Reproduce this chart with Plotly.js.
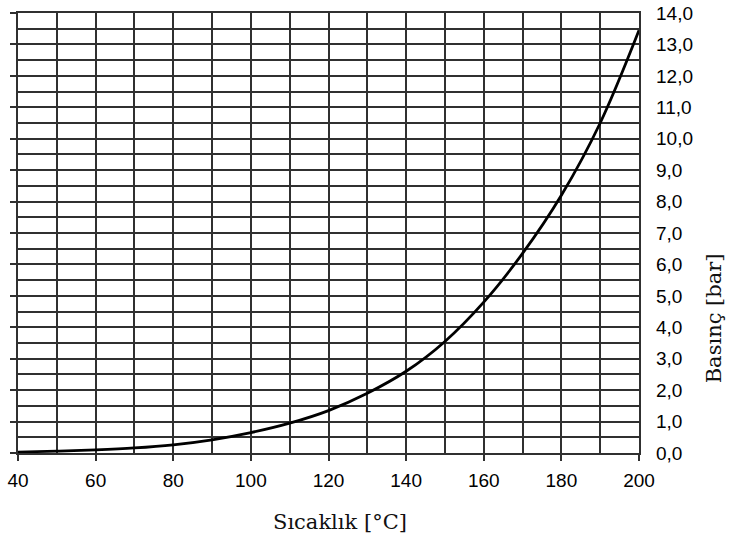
<!DOCTYPE html>
<html>
<head>
<meta charset="utf-8">
<script src="https://cdn.plot.ly/plotly-3.0.1.min.js"></script>
<style>html,body{margin:0;padding:0;background:#fff;}#chart{width:734px;height:542px;}</style>
</head>
<body>
<div id="chart"></div>
<script>
// Temperature [°C]
const temperature = [40, 50, 60, 70, 80, 90, 100, 110, 120, 130, 140, 150, 160, 170, 180, 190, 200];
// Pressure [bar]
const pressure = [0.03, 0.06, 0.10, 0.16, 0.26, 0.42, 0.65, 0.95, 1.35, 1.9, 2.6, 3.55, 4.8, 6.35, 8.2, 10.5, 13.45];
const xTitle = 'Sıcaklık [°C]';
const yTitle = 'Basınç [bar]';

const gridCol = '#303030';
const tickFont = {family: "'Liberation Sans', Arial, sans-serif", size: 19, color: '#000'};
const titleFont = {family: "'DejaVu Serif', serif", size: 21, color: '#111'};

const traces = [
  {x: temperature, y: pressure, mode: 'lines', line: {color: '#000', width: 2.8, shape: 'spline', smoothing: 1}, hoverinfo: 'skip', showlegend: false},
  {x: temperature, y: pressure, mode: 'lines', yaxis: 'y2', line: {color: 'rgba(0,0,0,0)', width: 0}, hoverinfo: 'skip', showlegend: false}
];

const layout = {
  width: 734, height: 542,
  margin: {l: 18, r: 95, t: 13, b: 89},
  paper_bgcolor: '#fff', plot_bgcolor: '#fff',
  separators: ',.',
  showlegend: false,
  xaxis: {
    range: [40, 200], dtick: 20, tick0: 40,
    showgrid: true, gridcolor: gridCol, gridwidth: 2,
    minor: {dtick: 10, showgrid: true, gridcolor: gridCol, gridwidth: 2},
    ticks: 'outside', ticklen: 6, tickwidth: 2, tickcolor: gridCol,
    ticklabelstandoff: 3,
    showline: true, mirror: true, linecolor: gridCol, linewidth: 2,
    tickfont: tickFont, zeroline: false, fixedrange: true
  },
  yaxis: {
    range: [0, 14], dtick: 1, tick0: 0,
    showgrid: true, gridcolor: gridCol, gridwidth: 2,
    minor: {dtick: 0.5, showgrid: true, gridcolor: gridCol, gridwidth: 2},
    ticks: 'outside', ticklen: 6, tickwidth: 2, tickcolor: gridCol,
    showticklabels: false,
    showline: true, mirror: true, linecolor: gridCol, linewidth: 2,
    zeroline: false, fixedrange: true
  },
  yaxis2: {
    overlaying: 'y', side: 'right', anchor: 'x',
    range: [0, 14], dtick: 1, tick0: 0, tickformat: '.1f',
    showgrid: false, zeroline: false, showline: false, ticks: '',
    ticklabelstandoff: 16,
    tickfont: tickFont, fixedrange: true
  },
  annotations: [
    {text: xTitle, xref: 'paper', yref: 'paper', x: 0.518, y: -0.157, xanchor: 'center', yanchor: 'middle', showarrow: false, font: titleFont},
    {text: yTitle, xref: 'paper', yref: 'paper', x: 1.12, y: 0.305, xanchor: 'center', yanchor: 'middle', textangle: -90, showarrow: false, font: titleFont}
  ]
};

Plotly.newPlot('chart', traces, layout, {staticPlot: true, displayModeBar: false});
</script>
</body>
</html>
